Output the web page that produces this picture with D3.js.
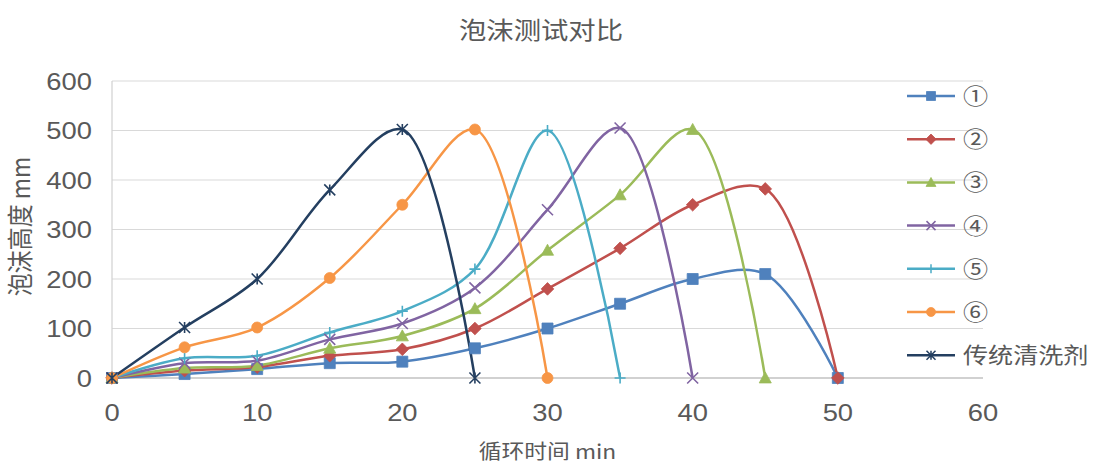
<!DOCTYPE html>
<html>
<head>
<meta charset="utf-8">
<script src="https://cdn.jsdelivr.net/npm/d3@7"></script>
<style>
    body { margin: 0; background: #fff; }
    text { fill: #595959; }
</style>
</head>
<body>
<script>
const width = 1106;
const height = 465;

const margin = {
    left: 112,
    right: 123,
    top: 81,
    bottom: 87
};

// picture looks a bit wider than tall, stretch the text to match
const stretch = 1.14;

const chartTitle = "泡沫测试对比";
const xTitle = "循环时间 min";
const yTitle = "泡沫高度 mm";

const times = [0, 5, 10, 15, 20, 25, 30, 35, 40, 45, 50];
const xTicks = [0, 10, 20, 30, 40, 50, 60];
const yTicks = [0, 100, 200, 300, 400, 500, 600];

const seriesNames = ["①", "②", "③", "④", "⑤", "⑥", "传统清洗剂"];
const s1 = [0, 8, 18, 30, 33, 60, 100, 150, 200, 210, 0];
const s2 = [0, 15, 22, 45, 58, 100, 180, 262, 350, 382, 0];
const s3 = [0, 20, 25, 60, 85, 140, 258, 370, 502, 0];
const s4 = [0, 30, 35, 78, 110, 182, 340, 505, 0];
const s5 = [0, 40, 45, 92, 135, 220, 500, 0];
const s6 = [0, 62, 102, 202, 350, 502, 0];
const s7 = [0, 102, 200, 380, 502, 0];

const colors = ["#4f81bd", "#c0504d", "#9bbb59", "#8064a2", "#4bacc6", "#f79646", "#243f60"];
const markers = ["square", "diamond", "triangle", "x", "plus", "circle", "star"];

let data = [s1, s2, s3, s4, s5, s6, s7].map((vals, i) => ({
    name: seriesNames[i],
    color: colors[i],
    marker: markers[i],
    values: vals.map((v, j) => ({t: times[j], h: v}))
}));

let svg = d3.select("body").append("svg")
    .attr("width", width)
    .attr("height", height);

let xScale = d3.scaleLinear()
    .domain([0, 60])
    .range([margin.left, width - margin.right]);

let yScale = d3.scaleLinear()
    .domain([0, 600])
    .range([height - margin.bottom, margin.top]);

// text helper: places a horizontally stretched label
function label(x, y, str, size, anchor, rot) {
    let g = svg.append("g")
        .attr("transform", `translate(${x},${y}) scale(${stretch},1)` + (rot ? ` rotate(${rot})` : ""));
    g.append("text")
        .attr("text-anchor", anchor)
        .style("font-size", size + "px")
        .style("font-family", str.match(/[\u2460-\u9fff]/) ? "'Noto Sans CJK SC', sans-serif" : "'Liberation Sans', Arial, sans-serif")
        .text(str);
    return g;
}

// grid
svg.append("g")
    .selectAll("line")
    .data(yTicks)
    .join("line")
    .attr("x1", xScale(0))
    .attr("x2", xScale(60))
    .attr("y1", d => yScale(d))
    .attr("y2", d => yScale(d))
    .attr("stroke", "#d9d9d9")
    .attr("stroke-width", 1.2);

svg.append("line")
    .attr("x1", xScale(0)).attr("x2", xScale(0))
    .attr("y1", yScale(600)).attr("y2", yScale(0))
    .attr("stroke", "#d0d0d0")
    .attr("stroke-width", 1.2);

svg.append("line")
    .attr("x1", xScale(0)).attr("x2", xScale(60))
    .attr("y1", yScale(0)).attr("y2", yScale(0))
    .attr("stroke", "#c8c8c8")
    .attr("stroke-width", 1.4);

// tick labels
yTicks.forEach(d => label(xScale(0) - 20, yScale(d) + 8.5, String(d), 24, "end"));
xTicks.forEach(d => label(xScale(d), yScale(0) + 43, String(d), 24, "middle"));

// titles
label(541, 39, chartTitle, 24, "middle");
label(xScale(30), 459, xTitle, 20, "middle");
label(30, (yScale(0) + yScale(600)) / 2 - 3, yTitle, 23, "middle", -90);

function markerPath(type, s) {
    let r = s / 2;
    switch (type) {
        case "square": return `M${-r},${-r}h${s}v${s}h${-s}Z`;
        case "diamond": return `M0,${-r * 1.15}L${r * 1.15},0L0,${r * 1.15}L${-r * 1.15},0Z`;
        case "triangle": return `M0,${-r * 1.1}L${r * 1.1},${r * 0.9}L${-r * 1.1},${r * 0.9}Z`;
        case "circle": return d3.symbol(d3.symbolCircle, Math.PI * r * r)();
        case "x": return `M${-r},${-r}L${r},${r}M${-r},${r}L${r},${-r}`;
        case "plus": return `M0,${-r}V${r}M${-r},0H${r}`;
        case "star": return `M${-r},${-r}L${r},${r}M${-r},${r}L${r},${-r}M0,${-r}V${r}`;
    }
}

const open = ["x", "plus", "star"];

let line = d3.line()
    .curve(d3.curveCatmullRom.alpha(0.5))
    .x(d => xScale(d.t))
    .y(d => yScale(d.h));

let curves = svg.selectAll(".curve")
    .data(data)
    .join("path")
    .attr("class", "curve")
    .attr("fill", "none")
    .attr("stroke", d => d.color)
    .attr("stroke-width", 2.5)
    .attr("stroke-linejoin", "round")
    .attr("d", d => line(d.values));

data.forEach(s => {
    svg.append("g")
        .selectAll("path")
        .data(s.values)
        .join("path")
        .attr("transform", d => `translate(${xScale(d.t)},${yScale(d.h)})`)
        .attr("d", markerPath(s.marker, 11))
        .attr("fill", open.includes(s.marker) ? "none" : s.color)
        .attr("stroke", s.color)
        .attr("stroke-width", open.includes(s.marker) ? 1.6 : 0.8);
});

// legend
let legend = svg.append("g");
data.forEach((s, i) => {
    let y = 96 + i * 43.2;
    legend.append("line")
        .attr("x1", 907).attr("x2", 955)
        .attr("y1", y).attr("y2", y)
        .attr("stroke", s.color)
        .attr("stroke-width", 2.5);
    legend.append("path")
        .attr("transform", `translate(931,${y})`)
        .attr("d", markerPath(s.marker, 9))
        .attr("fill", open.includes(s.marker) ? "none" : s.color)
        .attr("stroke", s.color)
        .attr("stroke-width", open.includes(s.marker) ? 1.5 : 0.8);
    label(963, y + 8, s.name, 22, "start");
});
</script>
</body>
</html>
